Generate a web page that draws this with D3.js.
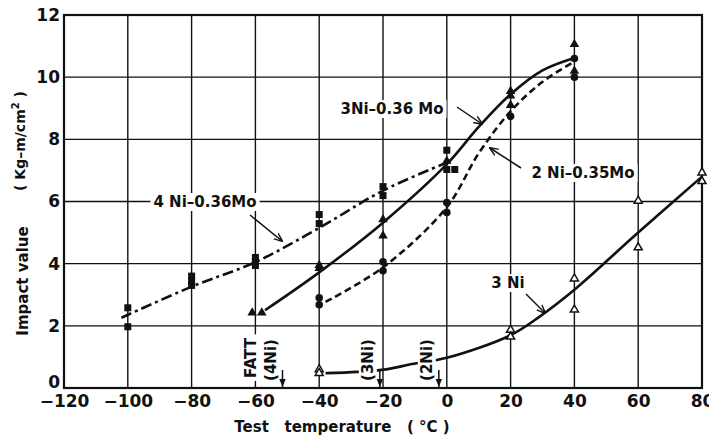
<!DOCTYPE html>
<html><head><meta charset="utf-8">
<script src="https://cdn.jsdelivr.net/npm/d3@7"></script>
<style>
body{margin:0;background:#fff;}
svg{display:block;}
text{font-family:"DejaVu Sans",sans-serif;font-weight:bold;fill:#111;}
</style></head>
<body>
<svg id="c" width="709" height="439"></svg>
<script>
// ---- data ----
const xTicks = [-120,-100,-80,-60,-40,-20,0,20,40,60,80];
const yTicks = [0,2,4,6,8,10,12];
// measured points [temperature, impact value]
const pts4NiMo = [[-100,2.58],[-100,1.97],[-80,3.6],[-80,3.45],[-80,3.3],[-60,4.2],[-60,4.05],[-60,3.94],[-40,5.58],[-40,5.29],[-20,6.48],[-20,6.19],[0,7.65],[0,7.03],[2.5,7.03]];
const pts3NiMo = [[-61,2.42],[-58,2.42],[-40,3.95],[-40,3.85],[-20,5.42],[-20,4.9],[0,7.3],[20,9.55],[20,9.4],[20,9.1],[40,11.06],[40,10.2]];
const pts2NiMo = [[-40,2.9],[-40,2.68],[-20,4.06],[-20,3.77],[0,5.97],[0,5.65],[20,8.74],[40,10.6],[40,10.0]];
const pts3Ni = [[-40,0.6],[-40,0.48],[20,1.87],[20,1.65],[40,3.52],[40,2.52],[60,6.02],[60,4.52],[80,6.93],[80,6.65]];
// fitted curves
const crv4NiMo = [[-102,2.26],[-80,3.26],[-60,4.05],[-40,5.15],[-20,6.35],[0,7.25]];
const crv3NiMo = [[-57,2.5],[-40,3.72],[-20,5.32],[0,7.2],[10,8.4],[20,9.45],[30,10.22],[40,10.62]];
const crv2NiMo = [[-38,2.77],[-20,3.88],[0,5.82],[10,7.55],[20,8.9],[30,9.85],[40,10.5]];
const crv3Ni = [[-38,0.48],[-28,0.52],[-19,0.6],[-11,0.77],[0,0.97],[20,1.7],[29,2.29],[40,3.16],[60,5.0],[80,6.8]];
// FATT arrows
const fattLabels = ["(4Ni)","(3Ni)","(2Ni)"];
const fattTemps = [-51.5,-21,-2.5];

// ---- chart ----
const svg = d3.select("#c");
const x = d3.scaleLinear().domain([-120,80]).range([64,702]);
const y = d3.scaleLinear().domain([0,12]).range([388,15]);

const defs = svg.append("defs");
defs.append("marker").attr("id","ah").attr("viewBox","0 0 10 10").attr("refX",9).attr("refY",5)
  .attr("markerWidth",9).attr("markerHeight",9).attr("markerUnits","userSpaceOnUse").attr("orient","auto")
  .append("path").attr("d","M0,1 L10,5 L0,9").attr("fill","none").attr("stroke","#111").attr("stroke-width",1.6);
defs.append("marker").attr("id","ahf").attr("viewBox","0 0 10 10").attr("refX",10).attr("refY",5)
  .attr("markerWidth",8).attr("markerHeight",8).attr("markerUnits","userSpaceOnUse").attr("orient","auto")
  .append("path").attr("d","M0,1 L10,5 L0,9 Z").attr("fill","#111");

// grid
const g = svg.append("g");
g.selectAll(".vx").data(xTicks).join("line")
  .attr("x1",d=>x(d)).attr("x2",d=>x(d)).attr("y1",y(0)).attr("y2",y(12))
  .attr("stroke","#111").attr("stroke-width",1.4);
g.selectAll(".hy").data(yTicks).join("line")
  .attr("x1",x(-120)).attr("x2",x(80)).attr("y1",d=>y(d)).attr("y2",d=>y(d))
  .attr("stroke","#111").attr("stroke-width",1.4);
g.append("rect").attr("x",x(-120)).attr("y",y(12)).attr("width",x(80)-x(-120)).attr("height",y(0)-y(12))
  .attr("fill","none").attr("stroke","#111").attr("stroke-width",2.2);

// axes tick labels using d3 axes
const xa = svg.append("g").attr("transform",`translate(0,${y(0)})`)
  .call(d3.axisBottom(x).tickValues(xTicks).tickSize(0).tickPadding(7).tickFormat(d=>d<0?"\u2212"+Math.abs(d):d));
xa.select(".domain").remove();
xa.selectAll("text").attr("font-size",17).attr("font-family","DejaVu Sans").attr("font-weight","bold").attr("fill","#111");
const ya = svg.append("g").attr("transform",`translate(${x(-120)},0)`)
  .call(d3.axisLeft(y).tickValues(yTicks).tickSize(0).tickPadding(4));
ya.select(".domain").remove();
ya.selectAll("text").attr("font-size",17).attr("font-family","DejaVu Sans").attr("font-weight","bold").attr("fill","#111")
  .attr("dy",d=>d===0?"-0.05em":"0.32em");

// axis titles
svg.append("text").attr("x",342).attr("y",432).attr("text-anchor","middle").attr("font-size",15)
  .attr("xml:space","preserve").text("Test   temperature   ( \u00B0C )");
svg.append("text").attr("transform","translate(28,281) rotate(-90)").attr("text-anchor","middle").attr("font-size",15)
  .text("Impact   value");
svg.append("text").attr("transform","translate(25,141) rotate(-90)").attr("text-anchor","middle").attr("font-size",14)
  .html("( Kg\u2013m/cm<tspan dy='-6' font-size='10'>2</tspan><tspan dy='6'> )</tspan>");

// labels with white backgrounds
function bgLabel(tx,ty,txt,size,rot){
  const gg = svg.append("g").attr("transform",`translate(${tx},${ty})`+(rot?` rotate(${rot})`:""));
  const t = gg.append("text").attr("font-size",size).attr("dominant-baseline","central").attr("text-anchor","middle").text(txt);
  const bb = t.node().getBBox();
  gg.insert("rect","text").attr("x",bb.x-3).attr("y",bb.y).attr("width",bb.width+6).attr("height",bb.height).attr("fill","#fff");
  return gg;
}

// curves
const line = d3.line().x(d=>x(d[0])).y(d=>y(d[1])).curve(d3.curveCatmullRom.alpha(0.5));
const cg = svg.append("g").attr("fill","none").attr("stroke","#111").attr("stroke-width",2.6).attr("stroke-linecap","butt");
cg.append("path").attr("d",line(crv4NiMo)).attr("stroke-dasharray","11,4,3,4");
cg.append("path").attr("d",line(crv3NiMo));
cg.append("path").attr("d",line(crv2NiMo)).attr("stroke-dasharray","7,4");
cg.append("path").attr("d",line(crv3Ni));

// series labels
bgLabel(205,202,"4 Ni\u20130.36Mo",15);
bgLabel(392,109,"3Ni\u20130.36 Mo",15);
bgLabel(583,173,"2 Ni\u20130.35Mo",15);
bgLabel(508,283,"3 Ni",15);

// label arrows
const ag = svg.append("g").attr("stroke","#111").attr("stroke-width",1.5).attr("fill","none");
ag.append("line").attr("x1",250).attr("y1",215).attr("x2",282).attr("y2",241).attr("marker-end","url(#ah)");
ag.append("line").attr("x1",457).attr("y1",107).attr("x2",482).attr("y2",124).attr("marker-end","url(#ah)");
ag.append("line").attr("x1",521).attr("y1",168).attr("x2",490).attr("y2",148).attr("marker-end","url(#ah)");
ag.append("line").attr("x1",526).attr("y1",294).attr("x2",545).attr("y2",313).attr("marker-end","url(#ah)");

// FATT labels + arrows
bgLabel(x(-61.5),358,"FATT",15,-90);
fattLabels.forEach((lb,i)=>{
  const xx = x(fattTemps[i]);
  bgLabel(xx-12,360,lb,15,-90);
  svg.append("line").attr("x1",xx).attr("x2",xx).attr("y1",370).attr("y2",y(0)-1)
    .attr("stroke","#111").attr("stroke-width",1.5).attr("marker-end","url(#ahf)");
});

// markers
const mg = svg.append("g");
mg.selectAll(".sq").data(pts4NiMo).join("rect")
  .attr("x",d=>x(d[0])-3.5).attr("y",d=>y(d[1])-3.5).attr("width",7).attr("height",7).attr("fill","#111");
const tri = d3.symbol().type(d3.symbolTriangle).size(40);
mg.selectAll(".tr").data(pts3NiMo).join("path")
  .attr("d",tri).attr("transform",d=>`translate(${x(d[0])},${y(d[1])})`).attr("fill","#111");
mg.selectAll(".ci").data(pts2NiMo).join("circle")
  .attr("cx",d=>x(d[0])).attr("cy",d=>y(d[1])).attr("r",3.8).attr("fill","#111");
const otri = d3.symbol().type(d3.symbolTriangle).size(28);
mg.selectAll(".ot").data(pts3Ni).join("path")
  .attr("d",otri).attr("transform",d=>`translate(${x(d[0])},${y(d[1])})`).attr("fill","#fff").attr("stroke","#111").attr("stroke-width",1.5);
</script>
</body></html>
